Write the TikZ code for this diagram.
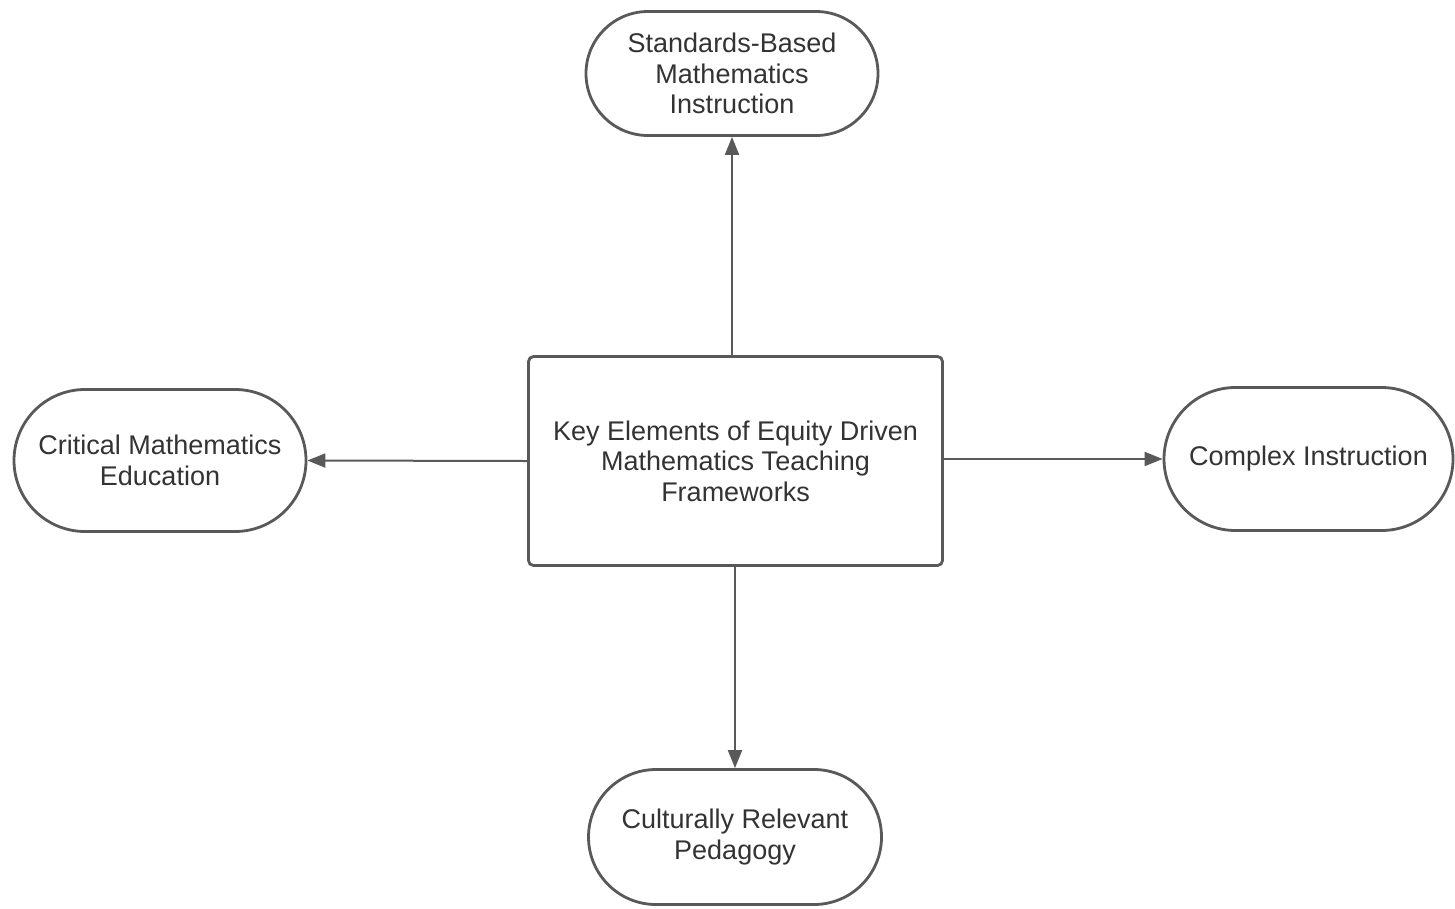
\documentclass[tikz,border=0pt]{standalone}
\usepackage{fontspec}
\setmainfont{Liberation Sans}
\usetikzlibrary{shapes.misc,arrows.meta}
\definecolor{edge}{HTML}{595959}
\definecolor{txt}{HTML}{333333}
\tikzset{
  pill/.style={rounded rectangle, draw=edge, line width=2.8pt, fill=white,
    text=txt, align=center, font=\fontsize{27}{30.5}\selectfont, inner sep=0pt},
  mainbox/.style={rectangle, rounded corners=5pt, draw=edge, line width=2.8pt, fill=white,
    text=txt, align=center, font=\fontsize{27}{30.5}\selectfont,
    minimum width=414pt, minimum height=209pt, inner sep=0pt},
  conn/.style={draw=edge, line width=2pt, -{Triangle[length=18pt,width=14pt]}}
}
\begin{document}
\begin{tikzpicture}[x=1pt,y=-1pt]
\useasboundingbox[fill=white] (0,0) rectangle (1455,908);
\node[mainbox] (c) at (735.5,461) {Key Elements of Equity Driven\\Mathematics Teaching\\Frameworks};
\node[pill, minimum width=292pt, minimum height=124pt] (t) at (732,73.5) {Standards-Based\\Mathematics\\Instruction};
\node[pill, minimum width=292pt, minimum height=142pt] (l) at (160,460.5) {Critical Mathematics\\Education};
\node[pill, minimum width=289pt, minimum height=143pt] (r) at (1308.5,459) {Complex Instruction};
\node[pill, minimum width=293pt, minimum height=135pt] (b) at (735,837) {Culturally Relevant\\Pedagogy};
\draw[conn] (c.north -| t.south) -- (t.south);
\draw[conn] (c.west) -- (l.east);
\draw[conn] (c.east |- r.west) -- (r.west);
\draw[conn] (c.south -| b.north) -- (b.north);
\end{tikzpicture}
\end{document}
